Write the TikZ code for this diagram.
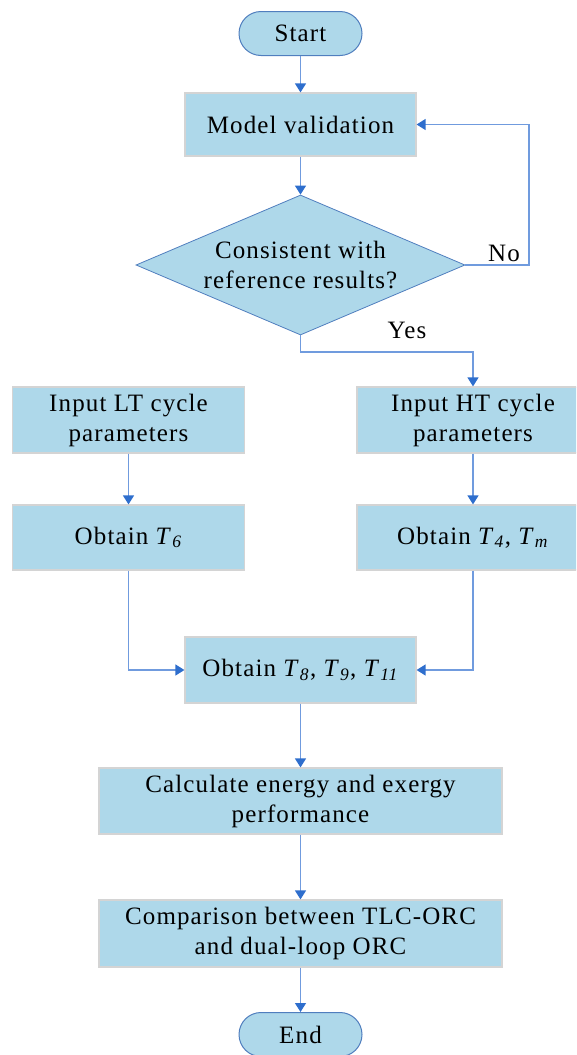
\documentclass[tikz,border=0pt]{standalone}
\usepackage{fontspec}
\setmainfont[LetterSpace=4.5]{Liberation Serif}
\usetikzlibrary{shapes.geometric,arrows.meta}
\definecolor{boxfill}{RGB}{174,216,234}
\definecolor{boxline}{RGB}{212,212,212}
\definecolor{termline}{RGB}{80,126,190}
\definecolor{conn}{RGB}{112,155,222}
\definecolor{tipblue}{RGB}{46,110,205}
\tikzset{
  base/.style={fill=boxfill, align=center, inner sep=0pt, font=\fontsize{25}{30}\selectfont},
  procbox/.style={base, draw=boxline, line width=1.2pt},
  termbox/.style={base, draw=termline, line width=1pt, rounded corners=22pt, minimum width=123pt, minimum height=44pt},
  decbox/.style={base, diamond, draw=termline, line width=0.8pt, aspect=2.35, minimum width=329pt, minimum height=140pt},
  conline/.style={draw=conn, line width=1.3pt},
  conarrow/.style={conline, -{Triangle[width=11pt,length=9pt,color=tipblue]}},
  lbl/.style={font=\fontsize{25}{30}\selectfont, inner sep=0pt}
}
\newcommand{\Tsub}[1]{\textit{T}\textsubscript{\textit{#1}}}
\begin{document}
\begin{tikzpicture}[x=1pt,y=-1pt]
\useasboundingbox (0,0) rectangle (576,1055);
\clip (0,0) rectangle (576,1055);
\node[termbox] (start) at (300.5,33.5) {Start};
\node[procbox, minimum width=231pt, minimum height=63pt] (mv) at (300.5,124.5) {Model validation};
\node[decbox] (dec) at (300.5,265) {Consistent with\\reference results?};
\node[procbox, minimum width=232pt, minimum height=66pt] (lt) at (128.5,420) {Input LT cycle\\parameters};
\node[procbox, minimum width=232pt, minimum height=66pt] (ht) at (473,420) {Input HT cycle\\parameters};
\node[procbox, minimum width=232pt, minimum height=65pt] (t6) at (128.5,537.5) {Obtain \Tsub{6}};
\node[procbox, minimum width=232pt, minimum height=65pt] (t4) at (473,537.5) {Obtain \Tsub{4}, \Tsub{m}};
\node[procbox, minimum width=231pt, minimum height=66pt] (t8) at (300.5,670) {Obtain \Tsub{8}, \Tsub{9}, \Tsub{11}};
\node[procbox, minimum width=403pt, minimum height=66pt] (calc) at (300.5,801) {Calculate energy and exergy\\performance};
\node[procbox, minimum width=403pt, minimum height=67pt] (comp) at (300.5,933.5) {Comparison between TLC-ORC\\and dual-loop ORC};
\node[termbox] (end) at (300.5,1034.5) {End};
\coordinate (noc) at (529,124.5);
\coordinate (yesc) at (300.5,352);
\draw[conarrow] (start.south) -- (mv.north);
\draw[conarrow] (mv.south) -- (dec.north);
\draw[conarrow] (dec.east) -| (noc) -- (mv.east);
\draw[conarrow] (dec.south) -- (yesc) -| (ht.north);
\draw[conarrow] (lt.south) -- (t6.north);
\draw[conarrow] (ht.south) -- (t4.north);
\draw[conarrow] (t6.south) |- (t8.west);
\draw[conarrow] (t4.south) |- (t8.east);
\draw[conarrow] (t8.south) -- (calc.north);
\draw[conarrow] (calc.south) -- (comp.north);
\draw[conarrow] (comp.south) -- (end.north);
\node[lbl] (nolbl) at (504,253) {No};
\node[lbl] (yeslbl) at (407,330) {Yes};
\end{tikzpicture}
\end{document}
